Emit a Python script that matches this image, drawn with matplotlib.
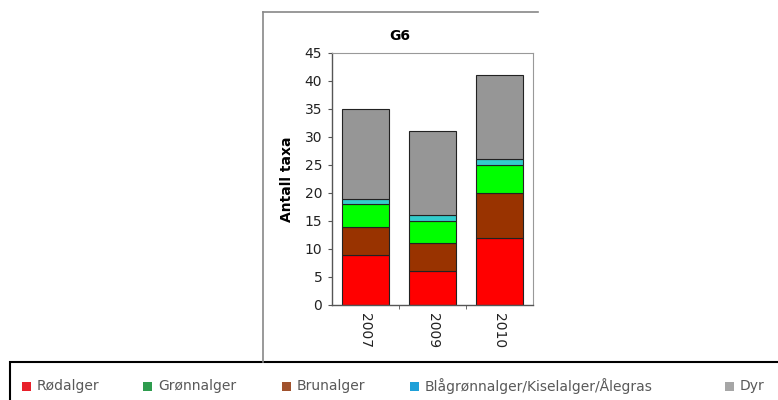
import matplotlib.pyplot as plt
from matplotlib.patches import Rectangle
from matplotlib.lines import Line2D
import numpy as np

# Data (number of taxa per group)
years = ['2007', '2009', '2010']
rodalger = [9, 6, 12]
brunalger = [5, 5, 8]
gronnalger = [4, 4, 5]
blagronn = [1, 1, 1]
dyr = [16, 15, 15]

series = [rodalger, brunalger, gronnalger, blagronn, dyr]
bar_colors = ['#ff0000', '#993300', '#00ff00', '#33cccc', '#969696']

legend_labels = ['Rødalger', 'Grønnalger', 'Brunalger',
                 'Blågrønnalger/Kiselalger/Ålegras', 'Dyr']
legend_colors = ['#e8202a', '#2e9c4e', '#a0522d', '#1ea0d8', '#a6a6a6']

W, H = 778, 400
fig = plt.figure(figsize=(W / 100, H / 100), dpi=100)
fig.patch.set_facecolor('white')

# axes in pixel terms
left, right, top, bottom = 332, 533, 53, 305
ax = fig.add_axes([left / W, 1 - bottom / H, (right - left) / W, (bottom - top) / H])

x = np.arange(len(years))
base = np.zeros(len(years))
for vals, col in zip(series, bar_colors):
    ax.bar(x, vals, bottom=base, width=0.69, color=col, edgecolor='#222222', linewidth=0.8)
    base += np.array(vals)

ax.set_ylim(0, 45)
ax.set_xlim(-0.5, 2.5)
ax.set_yticks(range(0, 46, 5))
ax.set_xticks(x)
ax.set_xticklabels(years, rotation=-90, fontsize=10, color='#222222')
ax.tick_params(axis='x', length=0, pad=6)
ax.set_xticks([0.5, 1.5], minor=True)
ax.tick_params(axis='x', which='minor', length=3, color='#555555')
ax.tick_params(axis='y', length=3, color='#555555', labelsize=10, labelcolor='#222222', pad=4)
for s in ['top', 'right']:
    ax.spines[s].set_color('#999999')
    ax.spines[s].set_linewidth(0.8)
for s in ['left', 'bottom']:
    ax.spines[s].set_color('#555555')
    ax.spines[s].set_linewidth(1.0)

ax.set_ylabel('Antall taxa', fontsize=10, fontweight='bold', labelpad=8)
fig.text(400 / W, 1 - 36 / H, 'G6', fontsize=10, fontweight='bold', ha='center', va='center')

# panel frame (top and left edges)
fig.add_artist(Line2D([263 / W, 538 / W], [1 - 12 / H, 1 - 12 / H], color='#888888', lw=1.2))
fig.add_artist(Line2D([263 / W, 263 / W], [1 - 12 / H, 1 - 362 / H], color='#888888', lw=1.2))

# legend box, entries placed like the original Excel legend
fig.add_artist(Rectangle((10 / W, -0.05), 1.2, (1 - 362 / H) + 0.05, transform=fig.transFigure,
                         facecolor='white', edgecolor='black', lw=1.5))
entry_x = [22, 143, 282, 410, 725]
ly = 386
for ex, lab, col in zip(entry_x, legend_labels, legend_colors):
    fig.add_artist(Rectangle((ex / W, 1 - (ly + 4.5) / H), 9 / W, 9 / H, transform=fig.transFigure,
                             facecolor=col, edgecolor='none'))
    fig.text((ex + 15) / W, 1 - ly / H, lab, fontsize=10, color='#595959', ha='left', va='center')

fig.savefig('out.png', dpi=100)
